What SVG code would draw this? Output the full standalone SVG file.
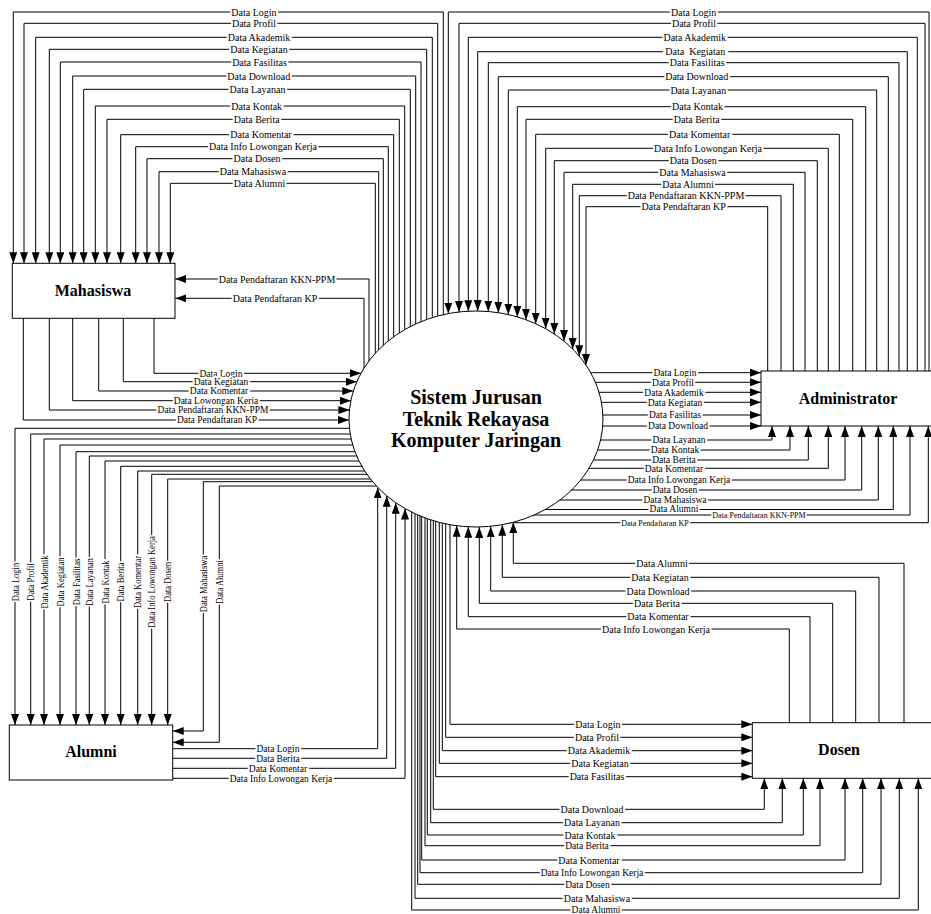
<svg xmlns="http://www.w3.org/2000/svg" width="931" height="914" viewBox="0 0 931 914">
<style>
.c{fill:none;stroke:#000;stroke-width:1}
.a{marker-end:url(#ah)}
.l{font-family:"Liberation Serif","Times New Roman",serif;font-size:10px;text-anchor:middle;fill:#000;white-space:pre;stroke:#fff;stroke-width:4.2;stroke-linejoin:round;paint-order:stroke}
.m{font-size:9.5px}
.s{font-size:8px;stroke-width:3.6}
.w{stroke-width:7}
.n{fill:#fff;stroke:#000;stroke-width:1}
.t{font-family:"Liberation Serif","Times New Roman",serif;font-weight:bold;font-size:16px;text-anchor:middle;fill:#000}
.e{font-size:20px}
</style>
<defs>
<marker id="ah" markerUnits="userSpaceOnUse" markerWidth="11" markerHeight="8" refX="11" refY="4" orient="auto">
<path d="M0,0 L11,4 L0,8 z" fill="#000"/>
</marker>
</defs>
<g id="connectors">
<!-- System -> Mahasiswa -->
<polyline class="c a" points="443.3,400 443.3,12 13.3,12 13.3,263.3"/>
<polyline class="c a" points="437.7,400 437.7,23.3 24,23.3 24,263.3"/>
<polyline class="c a" points="432.3,400 432.3,37.3 35.7,37.3 35.7,263.3"/>
<polyline class="c a" points="426.7,400 426.7,49.3 49.3,49.3 49.3,263.3"/>
<polyline class="c a" points="421,400 421,62 60.3,62 60.3,263.3"/>
<polyline class="c a" points="415.7,400 415.7,76 72.7,76 72.7,263.3"/>
<polyline class="c a" points="410.3,400 410.3,89.3 83.7,89.3 83.7,263.3"/>
<polyline class="c a" points="404.7,400 404.7,106 95.3,106 95.3,263.3"/>
<polyline class="c a" points="399.3,400 399.3,119.3 107,119.3 107,263.3"/>
<polyline class="c a" points="393.7,400 393.7,134.7 120.7,134.7 120.7,263.3"/>
<polyline class="c a" points="388.3,400 388.3,146.7 135.7,146.7 135.7,263.3"/>
<polyline class="c a" points="383.3,400 383.3,158.7 147,158.7 147,263.3"/>
<polyline class="c a" points="378.7,400 378.7,171.7 159,171.7 159,263.3"/>
<polyline class="c a" points="375.3,400 375.3,183.3 170.3,183.3 170.3,263.3"/>
<polyline class="c a" points="369,400 369,279 175.3,279"/>
<polyline class="c a" points="364,400 364,298.3 175.3,298.3"/>
<text class="l" x="254" y="15.5">Data Login</text>
<text class="l" x="254" y="26.8">Data Profil</text>
<text class="l" x="259" y="40.8">Data Akademik</text>
<text class="l" x="259" y="52.8">Data Kegiatan</text>
<text class="l" x="259.5" y="65.5">Data Fasilitas</text>
<text class="l" x="258.8" y="79.5">Data Download</text>
<text class="l" x="257.5" y="92.8">Data Layanan</text>
<text class="l" x="256.7" y="109.5">Data Kontak</text>
<text class="l" x="256.7" y="122.8">Data Berita</text>
<text class="l" x="261" y="138.2">Data Komentar</text>
<text class="l" x="263" y="150.2">Data Info Lowongan Kerja</text>
<text class="l" x="257" y="162.2">Data Dosen</text>
<text class="l" x="253" y="175.2">Data Mahasiswa</text>
<text class="l" x="259.5" y="186.8">Data Alumni</text>
<text class="l" x="277" y="282.5">Data Pendaftaran KKN-PPM</text>
<text class="l" x="275" y="301.8">Data Pendaftaran KP</text>
<!-- Mahasiswa -> System -->
<polyline class="c a" points="154,318.3 154,373.3 360.9,373.3"/>
<polyline class="c a" points="123.3,318.3 123.3,381.7 356.8,381.7"/>
<polyline class="c a" points="98.7,318.3 98.7,391 353.3,391"/>
<polyline class="c a" points="72.7,318.3 72.7,400.7 350.8,400.7"/>
<polyline class="c a" points="49.3,318.3 49.3,410 349.4,410"/>
<polyline class="c a" points="23.3,318.3 23.3,420 349,420"/>
<text class="l m" x="221" y="376.6">Data Login</text>
<text class="l m" x="221" y="385">Data Kegiatan</text>
<text class="l m" x="219" y="394.3">Data Komentar</text>
<text class="l m" x="216" y="404">Data Lowongan Kerja</text>
<text class="l m" x="213" y="413.3">Data Pendaftaran KKN-PPM</text>
<text class="l m" x="217" y="423.3">Data Pendaftaran KP</text>
<!-- Administrator -> System -->
<polyline class="c a" points="929,371 929,12 448.3,12 448.3,313.6"/>
<polyline class="c a" points="925,371 925,23.3 459,23.3 459,312"/>
<polyline class="c a" points="917.3,371 917.3,37.3 468.3,37.3 468.3,311.2"/>
<polyline class="c a" points="907.3,371 907.3,51.7 477.7,51.7 477.7,311"/>
<polyline class="c a" points="899,371 899,62.7 488.3,62.7 488.3,311.5"/>
<polyline class="c a" points="888.3,371 888.3,76.7 498.3,76.7 498.3,312.7"/>
<polyline class="c a" points="876.7,371 876.7,90 508.3,90 508.3,314.6"/>
<polyline class="c a" points="865.7,371 865.7,106.7 517.3,106.7 517.3,316.9"/>
<polyline class="c a" points="852.7,371 852.7,119.3 526,119.3 526,319.7"/>
<polyline class="c a" points="839.3,371 839.3,134.3 535.7,134.3 535.7,323.7"/>
<polyline class="c a" points="828.3,371 828.3,148.3 545.7,148.3 545.7,328.7"/>
<polyline class="c a" points="817.3,371 817.3,160.7 554.3,160.7 554.3,334"/>
<polyline class="c a" points="805,371 805,172.3 564,172.3 564,341.1"/>
<polyline class="c a" points="793.3,371 793.3,184.3 572.7,184.3 572.7,349"/>
<polyline class="c a" points="781,371 781,195.7 579.3,195.7 579.3,356.2"/>
<polyline class="c a" points="767.7,371 767.7,206.7 586,206.7 586,365"/>
<text class="l" x="693.7" y="15.5">Data Login</text>
<text class="l" x="694" y="26.8">Data Profil</text>
<text class="l" x="694.7" y="40.8">Data Akademik</text>
<text class="l w" x="695.3" y="55.2">Data  Kegiatan</text>
<text class="l" x="697.2" y="66.2">Data Fasilitas</text>
<text class="l" x="696.7" y="80.2">Data Download</text>
<text class="l" x="698.3" y="93.5">Data Layanan</text>
<text class="l" x="697.5" y="110.2">Data Kontak</text>
<text class="l" x="696.7" y="122.8">Data Berita</text>
<text class="l" x="699.7" y="137.8">Data Komentar</text>
<text class="l" x="708" y="151.8">Data Info Lowongan Kerja</text>
<text class="l" x="693.3" y="164.2">Data Dosen</text>
<text class="l" x="692.5" y="175.8">Data Mahasiswa</text>
<text class="l" x="688" y="187.8">Data Alumni</text>
<text class="l" x="686" y="199.2">Data Pendaftaran KKN-PPM</text>
<text class="l" x="683.7" y="210.2">Data Pendaftaran KP</text>
<!-- System -> Administrator -->
<polyline class="c a" points="570,372.7 761,372.7"/>
<polyline class="c a" points="570,382.3 761,382.3"/>
<polyline class="c a" points="570,392.3 761,392.3"/>
<polyline class="c a" points="570,402.3 761,402.3"/>
<polyline class="c a" points="570,415 761,415"/>
<polyline class="c a" points="570,426 761,426"/>
<polyline class="c a" points="500,440 772,440 772,426"/>
<polyline class="c a" points="500,450 790,450 790,426"/>
<polyline class="c a" points="500,460 808.3,460 808.3,426"/>
<polyline class="c a" points="500,468.3 828.3,468.3 828.3,426"/>
<polyline class="c a" points="500,480 845,480 845,426"/>
<polyline class="c a" points="500,490 861.7,490 861.7,426"/>
<polyline class="c a" points="500,500 878.3,500 878.3,426"/>
<polyline class="c a" points="500,509.5 893.3,509.5 893.3,426"/>
<polyline class="c a" points="500,515 910,515 910,426"/>
<polyline class="c a" points="500,522.7 928.3,522.7 928.3,426"/>
<text class="l m" x="675" y="376">Data Login</text>
<text class="l m" x="673" y="385.6">Data Profil</text>
<text class="l m" x="674" y="395.6">Data Akademik</text>
<text class="l m" x="675" y="405.6">Data Kegiatan</text>
<text class="l m" x="675" y="418.3">Data Fasilitas</text>
<text class="l m" x="678" y="429.3">Data Download</text>
<text class="l m" x="679" y="443.3">Data Layanan</text>
<text class="l m" x="675" y="453.3">Data Kontak</text>
<text class="l m" x="674" y="463.3">Data Berita</text>
<text class="l m" x="674" y="471.6">Data Komentar</text>
<text class="l m" x="679" y="483.3">Data Info Lowongan Kerja</text>
<text class="l m" x="675" y="493.3">Data Dosen</text>
<text class="l m" x="675" y="503.3">Data Mahasiswa</text>
<text class="l m" x="674" y="512.4">Data Alumni</text>
<text class="l s" x="759" y="517.8">Data Pendaftaran KKN-PPM</text>
<text class="l s" x="655" y="525.5">Data Pendaftaran KP</text>
<!-- System -> Alumni -->
<polyline class="c a" points="400,428.3 15,428.3 15,725"/>
<polyline class="c a" points="400,434 30.7,434 30.7,725"/>
<polyline class="c a" points="400,439 44,439 44,725"/>
<polyline class="c a" points="400,445 60,445 60,725"/>
<polyline class="c a" points="400,451.7 76,451.7 76,725"/>
<polyline class="c a" points="400,456 89.3,456 89.3,725"/>
<polyline class="c a" points="400,461 105,461 105,725"/>
<polyline class="c a" points="400,466.3 120.7,466.3 120.7,725"/>
<polyline class="c a" points="400,471 137.7,471 137.7,725"/>
<polyline class="c a" points="400,474.3 151.7,474.3 151.7,725"/>
<polyline class="c a" points="400,479 167.7,479 167.7,725"/>
<polyline class="c a" points="400,481.7 203.3,481.7 203.3,731 172.7,731"/>
<polyline class="c a" points="400,486 219.3,486 219.3,742.3 172.7,742.3"/>
<text class="l" transform="translate(18.5,582) rotate(-90) scale(0.85,1)">Data Login</text>
<text class="l" transform="translate(34.2,582) rotate(-90) scale(0.85,1)">Data Profil</text>
<text class="l" transform="translate(47.5,582) rotate(-90) scale(0.85,1)">Data Akademik</text>
<text class="l" transform="translate(63.5,582) rotate(-90) scale(0.85,1)">Data Kegiatan</text>
<text class="l" transform="translate(79.5,582) rotate(-90) scale(0.85,1)">Data Fasilitas</text>
<text class="l" transform="translate(92.8,582) rotate(-90) scale(0.85,1)">Data Layanan</text>
<text class="l" transform="translate(108.5,582) rotate(-90) scale(0.85,1)">Data Kontak</text>
<text class="l" transform="translate(124.2,582) rotate(-90) scale(0.85,1)">Data Berita</text>
<text class="l" transform="translate(141.2,582) rotate(-90) scale(0.85,1)">Data Komentar</text>
<text class="l" transform="translate(155.2,582) rotate(-90) scale(0.85,1)">Data Info Lowongan Kerja</text>
<text class="l" transform="translate(171.2,582) rotate(-90) scale(0.85,1)">Data Dosen</text>
<text class="l" transform="translate(206.8,584) rotate(-90) scale(0.85,1)">Data Mahasiswa</text>
<text class="l" transform="translate(222.8,582) rotate(-90) scale(0.85,1)">Data Alumni</text>
<!-- Alumni -> System -->
<polyline class="c a" points="172.7,748.7 377.7,748.7 377.7,487.4"/>
<polyline class="c a" points="172.7,758.3 386.7,758.3 386.7,495.8"/>
<polyline class="c a" points="172.7,768.3 395.7,768.3 395.7,502.7"/>
<polyline class="c a" points="172.7,778.3 405,778.3 405,508.5"/>
<text class="l m" x="278" y="752">Data Login</text>
<text class="l m" x="278" y="761.6">Data Berita</text>
<text class="l m" x="278" y="771.6">Data Komentar</text>
<text class="l m" x="281" y="781.6">Data Info Lowongan Kerja</text>
<!-- Dosen -> System -->
<polyline class="c a" points="904,722.7 904,563.3 513.3,563.3 513.3,522.2"/>
<polyline class="c a" points="879,722.7 879,577.3 502.3,577.3 502.3,524.7"/>
<polyline class="c a" points="855.7,722.7 855.7,591 490.7,591 490.7,526.3"/>
<polyline class="c a" points="832.7,722.7 832.7,603.3 479.3,603.3 479.3,527"/>
<polyline class="c a" points="810,722.7 810,616.7 468.3,616.7 468.3,526.8"/>
<polyline class="c a" points="789.3,722.7 789.3,629 456.7,629 456.7,525.7"/>
<text class="l" x="662" y="566.8">Data Alumni</text>
<text class="l" x="660" y="580.8">Data Kegiatan</text>
<text class="l" x="658" y="594.5">Data Download</text>
<text class="l" x="657" y="606.8">Data Berita</text>
<text class="l" x="658" y="620.2">Data Komentar</text>
<text class="l" x="656" y="632.5">Data Info Lowongan Kerja</text>
<!-- System -> Dosen -->
<polyline class="c a" points="450,480 450,724.3 752.3,724.3"/>
<polyline class="c a" points="445.7,480 445.7,737.3 752.3,737.3"/>
<polyline class="c a" points="442.3,480 442.3,750.7 752.3,750.7"/>
<polyline class="c a" points="439.3,480 439.3,763.3 752.3,763.3"/>
<polyline class="c a" points="435.7,480 435.7,776.7 752.3,776.7"/>
<polyline class="c a" points="433.3,480 433.3,809.3 764.3,809.3 764.3,778.3"/>
<polyline class="c a" points="430.7,480 430.7,822.7 782.3,822.7 782.3,778.3"/>
<polyline class="c a" points="427.3,480 427.3,835 803.3,835 803.3,778.3"/>
<polyline class="c a" points="425,480 425,845.7 820,845.7 820,778.3"/>
<polyline class="c a" points="421.7,480 421.7,860 845,860 845,778.3"/>
<polyline class="c a" points="420,480 420,872.7 862.7,872.7 862.7,778.3"/>
<polyline class="c a" points="417.7,480 417.7,884.3 881,884.3 881,778.3"/>
<polyline class="c a" points="415,480 415,898.3 899.3,898.3 899.3,778.3"/>
<polyline class="c a" points="411.7,480 411.7,910 918.3,910 918.3,778.3"/>
<text class="l" x="598" y="727.8">Data Login</text>
<text class="l" x="597" y="740.8">Data Profil</text>
<text class="l" x="599" y="754.2">Data Akademik</text>
<text class="l" x="600" y="766.8">Data Kegiatan</text>
<text class="l" x="597" y="780.2">Data Fasilitas</text>
<text class="l" x="592" y="812.8">Data Download</text>
<text class="l" x="592" y="826.2">Data Layanan</text>
<text class="l" x="590" y="838.5">Data Kontak</text>
<text class="l m" x="587" y="849">Data Berita</text>
<text class="l" x="589" y="863.5">Data Komentar</text>
<text class="l m" x="592" y="876">Data Info Lowongan Kerja</text>
<text class="l m" x="587.5" y="887.6">Data Dosen</text>
<text class="l" x="597" y="901.8">Data Mahasiswa</text>
<text class="l m" x="596" y="913">Data Alumni</text>
</g>
<g id="node-sistem">
<ellipse class="n" cx="476" cy="419" rx="127" ry="108"/>
<text class="t e" x="476" y="404">Sistem Jurusan</text>
<text class="t e" x="476" y="425.5">Teknik Rekayasa</text>
<text class="t e" x="476" y="447">Komputer Jaringan</text>
</g>
<g id="node-mahasiswa">
<rect class="n" x="12.3" y="263.3" width="162.7" height="55"/>
<text class="t" x="93" y="295.5">Mahasiswa</text>
</g>
<g id="node-administrator">
<rect class="n" x="761" y="371" width="180" height="55"/>
<text class="t" x="848" y="403.5">Administrator</text>
</g>
<g id="node-alumni">
<rect class="n" x="9.3" y="725" width="163.4" height="55"/>
<text class="t" x="91" y="757">Alumni</text>
</g>
<g id="node-dosen">
<rect class="n" x="752.3" y="722.7" width="190" height="55.6"/>
<text class="t" x="839" y="755">Dosen</text>
</g>
</svg>
